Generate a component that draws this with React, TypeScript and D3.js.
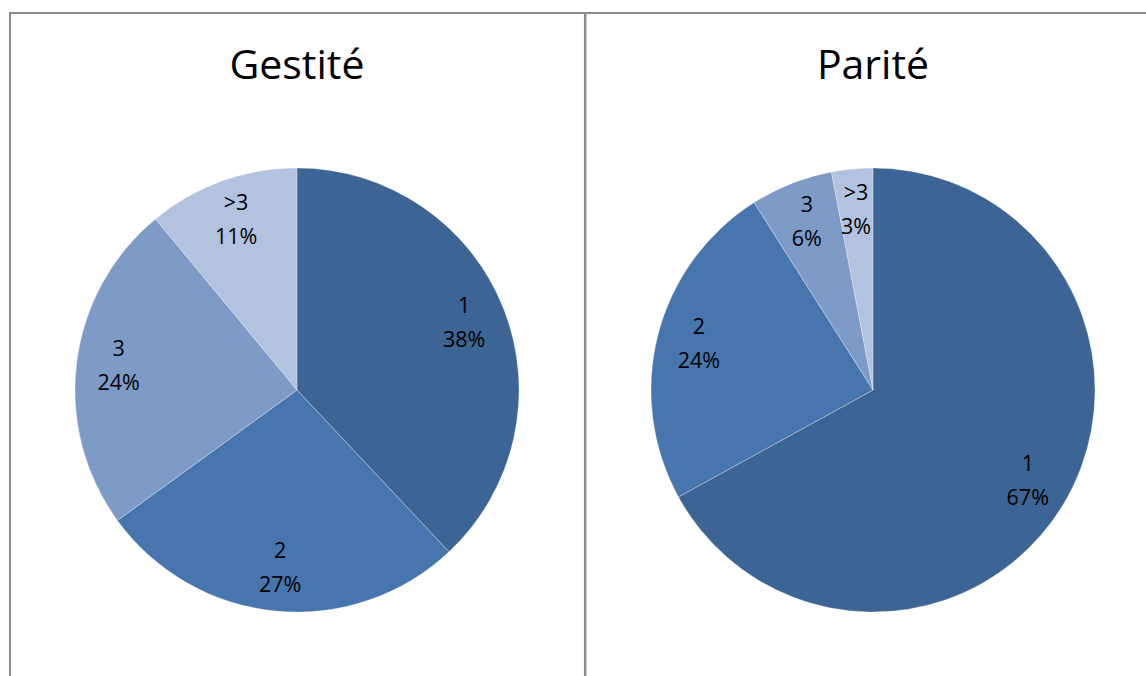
import React from "react";
import * as d3 from "d3";

const gestiteCategories = ["1", "2", "3", ">3"];
const gestiteValues = [38, 27, 24, 11];
const pariteCategories = ["1", "2", "3", ">3"];
const pariteValues = [67, 24, 6, 3];
const sliceColors = ["#3C6494", "#4775AD", "#7E9AC7", "#B3C2DE"];

const W = 1146;
const H = 676;
const R = 222;
const FONT = "'Open Sans', 'Noto Sans', sans-serif";

function Pie({ cx, cy, title, cats, vals }: { cx: number; cy: number; title: string; cats: string[]; vals: number[] }) {
  const data = cats.map((c, i) => ({ c, v: vals[i], i }));
  const pie = d3.pie<any>().value((d) => d.v).sort(null);
  const arcs = pie(data);
  const total = d3.sum(vals);
  const arc = d3.arc<any>().innerRadius(0).outerRadius(R);
  const labelArc = d3.arc<any>().innerRadius(R * 0.81).outerRadius(R * 0.81);
  return (
    <g>
      <text x={cx} y={79} textAnchor="middle" fontFamily={FONT} fontSize={41} fill="#000">
        {title}
      </text>
      <g transform={`translate(${cx},${cy})`}>
        {arcs.map((a, i) => (
          <path key={i} d={arc(a) as string} fill={sliceColors[i]} stroke="#ffffff" strokeOpacity={0.35} strokeWidth={0.8} />
        ))}
        {arcs.map((a, i) => {
          const [x, y] = labelArc.centroid(a);
          const pct = Math.round((a.data.v / total) * 100) + "%";
          return (
            <text key={"l" + i} x={x} y={y} textAnchor="middle" fontFamily={FONT} fontSize={21.5} fill="#000">
              <tspan x={x} dy={-11}>{a.data.c}</tspan>
              <tspan x={x} dy={34}>{pct}</tspan>
            </text>
          );
        })}
      </g>
    </g>
  );
}

export default function App() {
  return (
    <svg width={W} height={H} style={{ position: "absolute", left: 0, top: 0, display: "block", background: "#fff" }}>
      <rect x={0} y={0} width={W} height={H} fill="#fff" />
      <line x1={9} x2={W} y1={13} y2={13} stroke="#8a8a8a" strokeWidth={2} />
      <line x1={10} x2={10} y1={12} y2={H} stroke="#8a8a8a" strokeWidth={2} />
      <line x1={585.2} x2={585.2} y1={12} y2={H} stroke="#8a8a8a" strokeWidth={2.5} />
      <Pie cx={297} cy={390} title="Gestité" cats={gestiteCategories} vals={gestiteValues} />
      <Pie cx={873} cy={390} title="Parité" cats={pariteCategories} vals={pariteValues} />
    </svg>
  );
}
